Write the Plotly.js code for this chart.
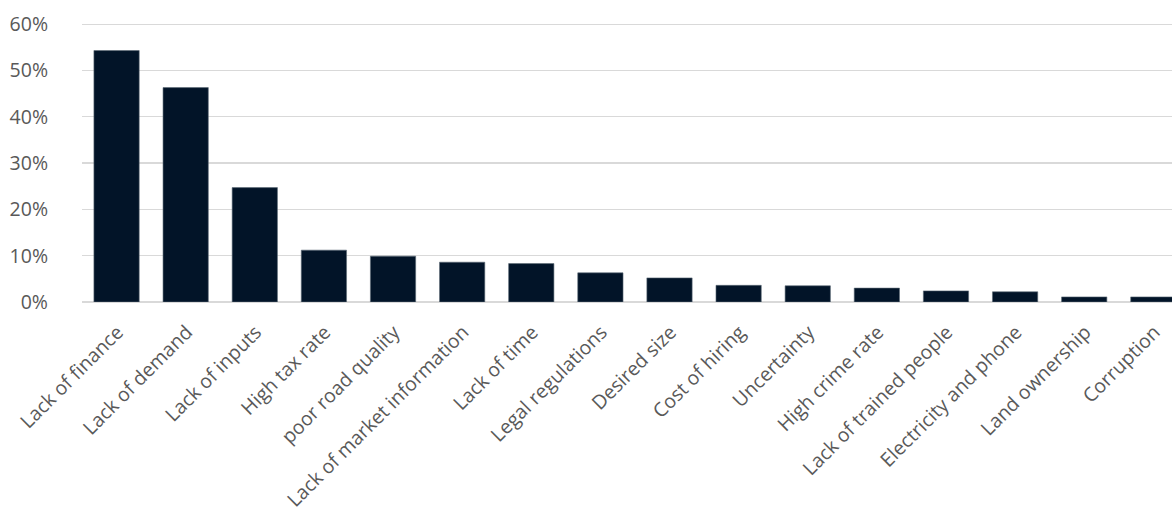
<!DOCTYPE html>
<html>
<head>
<meta charset="utf-8">
<script src="https://cdn.plot.ly/plotly-3.0.1.min.js"></script>
<style>html,body{margin:0;padding:0;background:#fff;}#chart{width:1172px;height:519px;}</style>
</head>
<body>
<div id="chart"></div>
<script>
const categories = ["Lack of finance","Lack of demand","Lack of inputs","High tax rate","poor road quality","Lack of market information","Lack of time","Legal regulations","Desired size","Cost of hiring","Uncertainty","High crime rate","Lack of trained people","Electricity and phone","Land ownership","Corruption"];
const shares = [0.543,0.463,0.247,0.112,0.099,0.086,0.083,0.063,0.052,0.036,0.035,0.030,0.024,0.022,0.011,0.011];
const yTickVals = [0,0.1,0.2,0.3,0.4,0.5,0.6];
const yTickText = ["0%","10%","20%","30%","40%","50%","60%"];

Plotly.newPlot("chart", [{
  type: "bar",
  x: categories,
  y: shares,
  marker: {color: "#021428", line: {color: "#5d6975", width: 0.6}},
  hoverinfo: "x+y"
}], {
  width: 1172, height: 519,
  margin: {l: 82, r: 0, t: 23, b: 217, pad: 0},
  paper_bgcolor: "#ffffff", plot_bgcolor: "#ffffff",
  bargap: 0.345,
  showlegend: false,
  font: {family: "Open Sans, sans-serif", color: "#595959", size: 19},
  xaxis: {
    type: "category",
    range: [-0.5, 15.27],
    tickangle: -45,
    showgrid: false, zeroline: false, showline: false,
    ticks: "",
    ticklabelstandoff: 14,
    ticklabelshift: 1,
    tickfont: {family: "Open Sans, sans-serif", size: 19.5, color: "#595959"}
  },
  yaxis: {
    range: [0, 0.6025],
    tickvals: yTickVals, ticktext: yTickText,
    showgrid: true, gridcolor: "#d9d9d9", gridwidth: 1.3,
    zeroline: true, zerolinecolor: "#d9d9d9", zerolinewidth: 1.5,
    showline: false, ticks: "",
    ticklabelstandoff: 33,
    tickfont: {family: "Open Sans, sans-serif", size: 19.5, color: "#595959"}
  }
}, {displayModeBar: false, staticPlot: true});
</script>
</body>
</html>
